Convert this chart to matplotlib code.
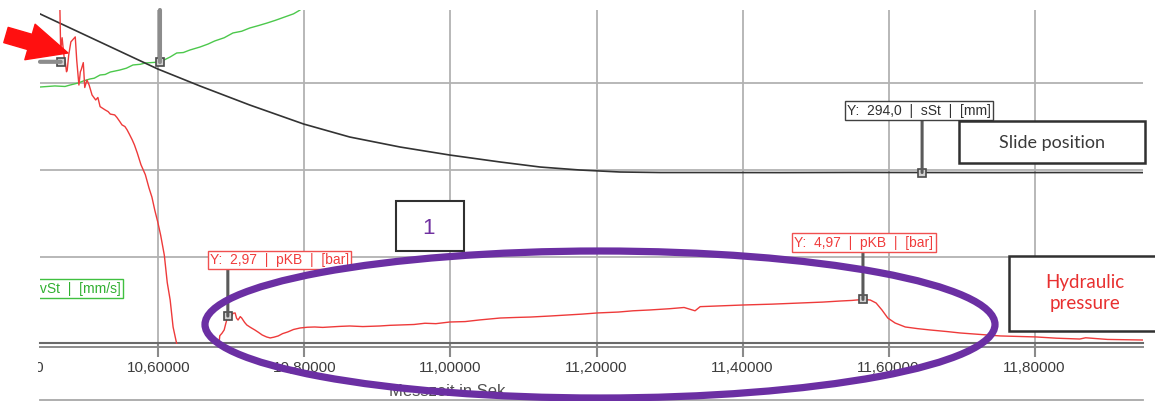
import matplotlib
matplotlib.use("Agg")
import matplotlib.pyplot as plt
import matplotlib.transforms as mtransforms
from matplotlib.patches import Ellipse, Rectangle, FancyArrowPatch, ConnectionPatch
from matplotlib.lines import Line2D
from matplotlib.ticker import FuncFormatter

plt.rcParams['font.family'] = ['Liberation Sans', 'DejaVu Sans']

# ---------------- data ----------------
x_ticks = [10.6, 10.8, 11.0, 11.2, 11.4, 11.6, 11.8]
x_range = [10.4377, 11.9486]

# hydraulic pressure pKB [bar]
t_pres = [10.462, 10.465, 10.466, 10.468, 10.469, 10.471, 10.472, 10.474, 10.475, 10.477,
          10.480, 10.486, 10.488, 10.491, 10.493, 10.494, 10.497, 10.499, 10.502, 10.505,
          10.509, 10.514, 10.517, 10.520, 10.527, 10.531, 10.534, 10.540, 10.543, 10.547,
          10.550, 10.554, 10.557, 10.560, 10.564, 10.567, 10.571, 10.576, 10.582, 10.587,
          10.591, 10.595, 10.599, 10.603, 10.608, 10.612, 10.616, 10.620, 10.625, 10.630,
          10.679, 10.684, 10.687, 10.690, 10.692, 10.695, 10.697, 10.699, 10.702, 10.705,
          10.707, 10.709, 10.712, 10.714, 10.718, 10.721, 10.726, 10.732, 10.737, 10.742,
          10.748, 10.753, 10.758, 10.764, 10.770, 10.777, 10.785, 10.794, 10.804, 10.814,
          10.825, 10.835, 10.848, 10.862, 10.880, 10.903, 10.917, 10.931, 10.950, 10.965,
          10.980, 10.999, 11.020, 11.040, 11.068, 11.090, 11.110, 11.136, 11.160, 11.180,
          11.201, 11.230, 11.250, 11.273, 11.300, 11.320, 11.335, 11.342, 11.370, 11.401,
          11.440, 11.479, 11.510, 11.534, 11.550, 11.565, 11.575, 11.583, 11.591, 11.599,
          11.609, 11.623, 11.640, 11.657, 11.680, 11.698, 11.725, 11.753, 11.780, 11.802,
          11.830, 11.862, 11.870, 11.900, 11.949]
pres = [43.5, 39.8, 35.0, 36.5, 35.6, 34.0, 33.8, 32.4, 32.6, 34.4,
        36.0, 36.6, 33.8, 30.8, 32.4, 32.6, 33.5, 30.5, 31.4, 30.8,
        29.6, 29.0, 29.3, 28.2, 27.8, 27.6, 27.3, 27.2, 26.9, 26.4,
        26.0, 25.8, 25.4, 24.9, 24.2, 23.6, 22.6, 21.2, 20.0, 18.4,
        17.3, 15.7, 14.3, 12.7, 10.3, 7.0, 4.9, 1.65, -0.4, -2.3,
        -3.5, 0.6, 0.9, 1.3, 2.0, 2.97, 2.5, 2.73, 3.3, 3.34,
        2.7, 2.49, 2.9, 2.73, 2.2, 1.89, 1.6, 1.29, 1.0, 0.69,
        0.45, 0.33, 0.42, 0.57, 0.85, 1.05, 1.35, 1.53, 1.62, 1.65,
        1.6, 1.65, 1.72, 1.77, 1.70, 1.77, 1.85, 1.89, 1.95, 2.1,
        2.05, 2.25, 2.3, 2.5, 2.73, 2.8, 2.85, 2.97, 3.1, 3.2,
        3.34, 3.45, 3.6, 3.70, 3.85, 4.0, 3.6, 4.1, 4.2, 4.30,
        4.4, 4.54, 4.65, 4.78, 4.85, 4.97, 4.9, 4.54, 3.7, 2.73,
        2.13, 1.65, 1.45, 1.29, 1.1, 0.93, 0.75, 0.57, 0.5, 0.45,
        0.3, 0.2, 0.35, 0.15, 0.08]
pres_lim = [-0.40, 39.84]

# slide position sSt [mm]
t_pos = [10.438, 10.479, 10.520, 10.561, 10.599, 10.657, 10.725, 10.799, 10.862, 10.931,
         10.999, 11.068, 11.123, 11.177, 11.232, 11.287, 11.350, 11.450, 11.550, 11.646,
         11.750, 11.850, 11.949]
pos = [476.2, 460.1, 444.0, 427.9, 413.0, 393.4, 371.6, 349.7, 334.8, 323.3,
       314.1, 306.1, 300.3, 296.9, 294.6, 294.0, 294.0, 293.9, 294.1, 294.0,
       293.9, 294.0, 293.9]
pos_lim = [96.9, 480.8]

# slide velocity vSt [mm/s]
t_vel = [10.438, 10.458, 10.472, 10.479, 10.490, 10.497, 10.506, 10.512, 10.520, 10.527,
         10.534, 10.547, 10.556, 10.565, 10.575, 10.582, 10.602, 10.609, 10.616, 10.625,
         10.634, 10.643, 10.657, 10.668, 10.677, 10.690, 10.702, 10.714, 10.725, 10.737,
         10.749, 10.760, 10.773, 10.785, 10.794, 10.801]
vel = [295.4, 296.6, 296.0, 297.7, 300.0, 302.3, 304.6, 305.5, 309.2, 309.8,
       312.6, 314.9, 317.0, 320.7, 321.5, 323.0, 324.1, 327.0, 329.9, 334.5,
       335.0, 337.9, 341.4, 344.8, 348.3, 352.0, 357.5, 359.5, 363.2, 366.0,
       369.0, 372.0, 375.9, 379.5, 383.9, 390.8]
vel_lim = [0.0, 383.9]

# cursors
cur_p1 = (10.695, 2.97)
cur_p2 = (11.565, 4.97)
cur_s = (11.646, 294.0)
cur_v = (10.602, 324.1)
cur_p0 = (10.466, 33.6)

# ---------------- figure ----------------
W, H = 1155, 401
fig = plt.figure(figsize=(W / 100, H / 100), dpi=100)
fig.patch.set_facecolor('white')


def fx(px):
    return px / W


def fy(py):
    return 1 - py / H


ax = fig.add_axes([fx(40), fy(344), fx(1143) - fx(40), fy(10) - fy(344)])
ax.set_xlim(*x_range)
ax.set_ylim(0, 334 / 87)
ax.set_xticks(x_ticks)
ax.set_yticks([1, 2, 3])
ax.xaxis.set_major_formatter(FuncFormatter(lambda v, p: f"{v:.5f}".replace('.', ',')))
ax.grid(True, color='#b2b2b2', lw=1.3)
ax.tick_params(axis='y', length=0, labelleft=False)
ax.tick_params(axis='x', direction='out', length=9, width=1.5, color='#8a8a8a',
               pad=3, labelsize=11, labelcolor='#3c3c3c')
for s in ax.spines.values():
    s.set_visible(False)
ax.set_axisbelow(True)

# double axis line
ax.plot([0, 1], [1 / 334, 1 / 334], transform=ax.transAxes, color='#6a6a6a', lw=1.5,
        clip_on=False, zorder=4)
ax.plot([0, 1], [-3 / 334, -3 / 334], transform=ax.transAxes, color='#8c8c8c', lw=1.4,
        clip_on=False, zorder=4)

# clipped first tick label (10,40000), cut at the left edge as in the screenshot
t0 = ax.text(10.4, -(12.5 + 4.2) / 334, "10,40000", transform=ax.get_xaxis_transform(),
             ha='center', va='top', fontsize=11, color='#3c3c3c', clip_on=True)
t0.set_clip_box(mtransforms.TransformedBbox(mtransforms.Bbox([[fx(38), 0], [1, 1]]),
                                            fig.transFigure))


def twin(lim):
    a = ax.twinx()
    a.set_ylim(*lim)
    a.axis('off')
    return a


ax_v = twin(vel_lim)
ax_s = twin(pos_lim)
ax_p = twin(pres_lim)

ax_v.plot(t_vel, vel, color='#4cc84c', lw=1.0)
ax_s.plot(t_pos, pos, color='#333333', lw=1.2)
ax_p.plot(t_pres, pres, color='#ee3a3a', lw=1.0)

blend = mtransforms.blended_transform_factory(ax.transData, fig.transFigure)
stem_kw = dict(color='#5a5a5a', lw=2.2, zorder=5)


def stem(axis, pt, label_bottom):
    cp = ConnectionPatch(xyA=pt, coordsA=axis.transData, xyB=(pt[0], fy(label_bottom)),
                         coordsB=blend, **stem_kw)
    fig.add_artist(cp)


stem(ax_p, cur_p1, 269)
stem(ax_p, cur_p2, 252)
stem(ax_s, cur_s, 120)
fig.add_artist(ConnectionPatch(xyA=cur_v, coordsA=ax_v.transData, xyB=(cur_v[0], 1),
                               coordsB=ax.get_xaxis_transform(), color='#8c8c8c', lw=3,
                               zorder=5))
fig.add_artist(ConnectionPatch(xyA=cur_p0, coordsA=ax_p.transData, xyB=(0, cur_p0[1]),
                               coordsB=ax_p.get_yaxis_transform(), color='#8c8c8c', lw=3,
                               zorder=5))

mk = dict(marker='s', ms=6, mfc='#d2d2d2', mec='#4a4a4a', mew=1.2, zorder=6, ls='none')
ax_p.plot(*cur_p1, **mk)
ax_p.plot(*cur_p2, **mk)
ax_p.plot(*cur_p0, **mk)
ax_s.plot(*cur_s, **mk)
ax_v.plot(*cur_v, **mk)

# cursor labels
lab_kw = dict(ha='center', va='center', fontsize=10, zorder=7)
fig.text(fx(279.5), fy(260), "Y:  2,97  |  pKB  |  [bar]", color='#f03c3c',
         bbox=dict(boxstyle='square,pad=0.15', fc='white', ec='#f05050', lw=1.0), **lab_kw)
fig.text(fx(864), fy(242.5), "Y:  4,97  |  pKB  |  [bar]", color='#f03c3c',
         bbox=dict(boxstyle='square,pad=0.15', fc='white', ec='#f05050', lw=1.0), **lab_kw)
fig.text(fx(919), fy(110.5), "Y:  294,0  |  sSt  |  [mm]", color='#303030',
         bbox=dict(boxstyle='square,pad=0.15', fc='white', ec='#404040', lw=1.0), **lab_kw)
ax.text(fx(121), fy(288.5), "Y:  324,1  |  vSt  |  [mm/s]", transform=fig.transFigure,
        ha='right', va='center', fontsize=10, color='#30b030', clip_on=True, zorder=7,
        bbox=dict(boxstyle='square,pad=0.15', fc='white', ec='#40c040', lw=1.0))

# axis title
fig.text(fx(447), fy(392), "Messzeit in Sek", ha='center', va='center', fontsize=12,
         color='#505050')
fig.add_artist(Line2D([fx(40), fx(1143)], [fy(399.5), fy(399.5)], transform=fig.transFigure,
                      color='#a8a8a8', lw=1.3))

# annotation boxes
fig.add_artist(Rectangle((fx(959), fy(163)), (1145 - 959) / W, (163 - 121) / H,
                         transform=fig.transFigure, fc='white', ec='#303030', lw=1.8, zorder=8))
fig.text(fx(1052), fy(143), "Slide position", ha='center', va='center', fontsize=13,
         family=['Lato', 'DejaVu Sans'], color='#3a3a3a', zorder=9)

fig.add_artist(Rectangle((fx(1009), fy(331)), (1170 - 1009) / W, (331 - 256) / H,
                         transform=fig.transFigure, fc='white', ec='#303030', lw=1.8, zorder=8))
fig.text(fx(1085), fy(293), "Hydraulic\npressure", ha='center', va='center', fontsize=13.5,
         family=['Lato', 'DejaVu Sans'], color='#e83030', linespacing=1.3, zorder=9)

fig.add_artist(Rectangle((fx(396), fy(251)), 68 / W, 50 / H, transform=fig.transFigure,
                         fc='white', ec='#303030', lw=1.5, zorder=8))
fig.text(fx(429), fy(229), "1", ha='center', va='center', fontsize=16, color='#7030a0',
         zorder=9)

# purple ellipse
fig.add_artist(Ellipse((fx(600), fy(324.5)), 790 / W, 147 / H, transform=fig.transFigure,
                       fill=False, ec='#6b2fa3', lw=5.2, zorder=10))

# red arrow
fig.add_artist(FancyArrowPatch((fx(6), fy(35)), (fx(68), fy(53)), transform=fig.transFigure,
                               arrowstyle='simple,head_length=1.5,head_width=1.4,tail_width=0.6',
                               mutation_scale=19, color='#ff1010', shrinkA=0, shrinkB=0,
                               zorder=11))

fig.savefig("out.png", dpi=100)
